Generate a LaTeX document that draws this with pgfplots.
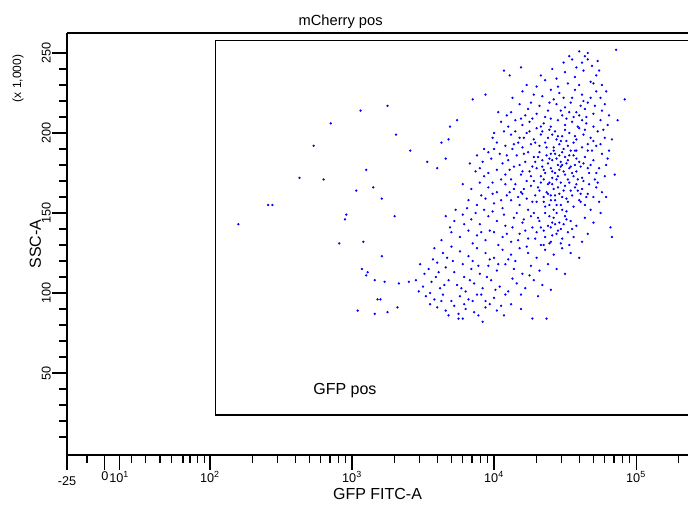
\documentclass[border=0pt]{standalone}
\usepackage{pgfplots}
\pgfplotsset{compat=1.18}
\usepackage{fontspec}
\setmainfont{Liberation Sans}
\begin{document}
\begin{tikzpicture}[x=1pt,y=1pt]
\begin{axis}[
  scale only axis, width=465.75pt, height=316.5pt,
  xmin=0.993, xmax=5.366, ymin=-1.25, ymax=262.5,
  axis x line=bottom, axis y line=left, axis line style={-, line width=0.8pt},
  xtick={0.993,1.26,1.36,2,3,4,5},
  xticklabels={\raisebox{-2.2ex}{-25},0,10\textsuperscript{1},10\textsuperscript{2},10\textsuperscript{3},10\textsuperscript{4},10\textsuperscript{5}},
  minor xtick={1.134,1.444,1.549,1.648,1.732,1.81,1.859,1.915,1.958,
   2.301,2.477,2.602,2.699,2.778,2.845,2.903,2.954,
   3.301,3.477,3.602,3.699,3.778,3.845,3.903,3.954,
   4.301,4.477,4.602,4.699,4.778,4.845,4.903,4.954,5.301},
  ytick={50,100,150,200,250},
  minor ytick={10,20,30,40,60,70,80,90,110,120,130,140,160,170,180,190,210,220,230,240},
  tick align=outside, tick style={black, line width=0.8pt},
  major tick length=11pt, minor tick length=6pt,
  xticklabel style={font=\fontsize{9.5}{10}\selectfont, inner sep=1pt},
  yticklabel style={font=\fontsize{9.5}{10}\selectfont, rotate=90, anchor=south, inner sep=1pt},
  /pgf/number format/assume math mode=true,
  xlabel={GFP FITC-A}, ylabel={SSC-A},
  xlabel style={font=\fontsize{12}{13}\selectfont, yshift=3pt},
  ylabel style={font=\fontsize{12}{13}\selectfont, yshift=-4pt},
  clip=false,
]
\addplot[black, line width=0.8pt] coordinates {(5.366,258)(2.04,258)(2.04,23.75)(5.366,23.75)};
\addplot[only marks, mark=*, mark size=0.65pt, blue, draw=none] coordinates {
(2.20,143)(2.41,155)(2.44,155)(2.63,172)(2.73,192)(2.80,171)(2.85,206)(2.91,131)(2.95,146)(2.96,149)
(3.03,164)(3.06,214)(3.08,132)(3.10,177)(3.15,166)(3.21,159)(3.25,217)(3.21,123)(3.30,148)(3.31,199)
(3.41,189)(3.53,182)(3.60,178)(3.66,184)(3.63,194)(3.68,196)(3.69,204)(3.74,208)(3.85,221)(3.94,224)
(4.07,239)(4.11,236)(4.19,241)(4.60,251)(4.86,252)(4.92,221)(4.87,208)(4.85,174)(4.82,141)(4.83,135)
(3.04,89)(3.16,87)(3.25,88)(3.32,91)(3.18,96)(3.20,96)(3.07,115)(3.11,113)(3.10,111)(3.16,108)
(3.23,107)(3.33,106)(3.40,107)(3.75,84)(3.78,84)(3.92,82)(4.27,84)(4.37,84)
(4.55,246)(4.62,244)(4.64,248)(4.66,246)(4.58,241)(4.72,236)(4.74,239)(4.50,238)(4.68,232)(4.44,234)
(4.36,233)(4.76,230)(4.60,230)(4.70,231)(4.30,229)(4.52,231)
(4.20,226)(4.28,224)(4.34,223)(4.40,227)(4.46,225)(4.55,222)(4.62,224)(4.72,226)(4.78,218)(4.66,219)
(4.18,218)(4.24,215)(4.32,217)(4.38,214)(4.44,218)(4.50,216)(4.58,213)(4.64,215)(4.70,212)(4.76,214)
(4.22,211)(4.30,212)(4.36,210)(4.48,211)(4.54,219)(4.60,211)(4.12,213)(4.42,221)(4.68,222)(4.26,219)
(4.05,207)(4.10,204)(4.15,208)(4.20,205)(4.25,207)(4.30,203)(4.35,206)(4.40,204)(4.45,208)(4.50,205)
(4.55,207)(4.60,203)(4.65,206)(4.70,204)(4.75,208)(4.80,205)(4.12,199)(4.18,197)(4.23,200)(4.28,196)
(4.33,199)(4.38,197)(4.43,201)(4.48,198)(4.53,200)(4.58,196)(4.63,199)(4.68,197)(4.73,201)(4.78,197)
(4.02,194)(4.08,192)(4.14,193)(4.20,191)(4.26,193)(4.32,192)(4.36,194)(4.42,191)(4.46,193)(4.52,192)
(4.56,194)(4.62,191)(4.66,193)(4.72,192)(4.44,196)(4.50,202)(4.40,209)(4.56,210)(4.34,201)(4.62,208)
(4.00,200)(3.96,188)(4.25,201)(4.41,199)(4.47,195)(4.57,198)(4.51,209)(4.29,194)(4.64,202)(4.70,195)
(3.88,186)(3.92,182)(3.98,184)(4.04,187)(4.10,183)(4.16,186)(4.22,182)(4.28,185)(4.34,183)(4.40,187)
(4.44,184)(4.48,188)(4.52,183)(4.56,186)(4.60,182)(4.64,185)(4.70,183)(4.76,187)(4.80,184)(4.38,181)
(3.90,178)(3.96,175)(4.02,177)(4.08,174)(4.14,179)(4.20,176)(4.26,173)(4.30,178)(4.36,175)(4.41,172)
(4.46,177)(4.50,174)(4.54,179)(4.58,176)(4.62,172)(4.66,178)(4.72,175)(4.78,173)(4.44,171)(4.48,180)
(4.32,188)(4.42,189)(4.50,185)(4.54,189)(4.58,189)(4.46,186)(4.40,178)(4.34,179)(4.56,173)(4.52,171)
(4.43,175)(4.47,182)(4.39,184)(4.49,176)(4.45,180)(4.41,183)(4.37,186)(4.53,178)(4.61,179)(4.68,180)
(4.24,188)(4.18,180)(4.12,171)(4.06,181)(4.00,190)(4.74,178)(4.58,184)(4.35,171)(4.28,170)(4.66,189)
(3.78,168)(3.84,165)(3.90,169)(3.96,166)(4.02,163)(4.08,168)(4.14,165)(4.20,162)(4.26,167)(4.32,164)
(4.38,168)(4.42,165)(4.46,162)(4.50,167)(4.54,164)(4.58,168)(4.62,165)(4.66,162)(4.72,166)(4.76,163)
(3.82,158)(3.88,155)(3.94,159)(4.00,156)(4.06,153)(4.12,158)(4.18,155)(4.24,152)(4.30,157)(4.36,154)
(4.40,158)(4.44,155)(4.48,152)(4.52,157)(4.56,154)(4.60,158)(4.64,155)(4.68,152)(4.74,157)(4.40,161)
(4.35,160)(4.45,166)(4.48,160)(4.42,152)(4.33,169)(4.55,161)(4.29,161)(4.51,151)(4.38,162)(4.43,158)
(4.47,169)(4.39,155)(4.27,157)(4.61,162)(4.21,165)(4.17,160)(4.09,161)(3.99,162)(4.63,170)(4.70,160)
(3.66,148)(3.72,145)(3.78,149)(3.84,146)(3.90,143)(3.96,148)(4.02,145)(4.08,142)(4.14,147)(4.20,144)
(4.26,148)(4.32,145)(4.38,142)(4.42,147)(4.46,144)(4.50,148)(4.54,145)(4.58,142)(4.64,147)(4.70,144)
(3.70,138)(3.76,135)(3.82,139)(3.88,136)(3.94,133)(4.00,138)(4.06,135)(4.12,132)(4.18,137)(4.24,134)
(4.30,138)(4.36,135)(4.40,132)(4.44,137)(4.48,134)(4.52,138)(4.56,135)(4.62,132)(4.66,137)(4.40,141)
(4.44,150)(4.36,150)(4.47,140)(4.33,141)(4.41,144)(4.45,139)(4.49,143)(4.28,150)(4.22,139)(4.16,150)
(3.58,128)(3.64,125)(3.70,129)(3.76,126)(3.82,123)(3.88,128)(3.94,125)(4.00,122)(4.06,127)(4.12,124)
(4.18,128)(4.24,125)(4.30,122)(4.36,127)(4.42,124)(4.48,128)(4.54,125)(4.60,122)(4.33,130)(4.39,131)
(3.48,118)(3.54,115)(3.60,119)(3.66,116)(3.72,113)(3.78,118)(3.84,115)(3.90,112)(3.96,117)(4.02,114)
(4.08,118)(4.14,115)(4.20,112)(4.26,117)(4.32,114)(4.38,118)(4.44,115)(4.50,112)(4.10,121)(3.85,120)
(3.45,108)(3.50,104)(3.56,107)(3.62,103)(3.68,108)(3.74,105)(3.80,101)(3.86,106)(3.92,103)(3.98,108)
(4.04,104)(4.10,101)(4.16,106)(4.22,103)(4.28,108)(4.34,105)(4.40,102)(3.59,110)(3.95,110)(4.25,111)
(3.52,98)(3.58,96)(3.64,99)(3.70,95)(3.76,98)(3.82,96)(3.88,99)(3.94,95)(4.00,97)(4.08,99)
(3.60,91)(3.66,89)(3.72,92)(3.80,90)(3.86,88)(3.94,91)(4.02,89)(3.55,93)(4.12,93)(3.68,86)
(4.37,191)(4.43,187)(4.49,190)(4.31,185)(4.27,179)(4.53,186)(4.45,173)(4.39,169)(4.51,181)(4.57,180)
(4.35,177)(4.33,173)(4.47,179)(4.41,176)(4.55,175)(4.59,171)(4.29,182)(4.25,176)(4.23,170)(4.19,174)
(4.37,163)(4.31,166)(4.49,164)(4.53,169)(4.57,166)(4.43,161)(4.41,168)(4.35,157)(4.47,155)(4.51,159)
(4.23,159)(4.19,163)(4.15,168)(4.11,163)(4.05,158)(4.61,157)(4.65,160)(4.59,164)(4.67,168)(4.71,171)
(4.39,148)(4.43,143)(4.31,147)(4.27,141)(4.35,139)(4.51,146)(4.55,140)(4.21,146)(4.13,141)(4.07,149)
(4.17,133)(4.23,129)(4.29,134)(4.35,130)(4.41,136)(4.47,131)(4.53,130)(4.09,137)(4.03,130)(3.97,139)
(4.45,198)(4.39,202)(4.33,204)(4.27,209)(4.21,197)(4.59,204)(4.53,213)(4.47,214)(4.61,217)(4.65,210)
(4.71,217)(4.77,202)(4.69,189)(4.75,193)(4.79,180)(4.73,169)(4.67,175)(4.63,181)(4.57,189)(4.51,195)
(3.91,161)(3.87,150)(3.93,152)(3.99,151)(3.81,153)(3.73,152)(3.69,141)(3.79,143)(3.85,131)(3.91,138)
(3.63,133)(3.67,122)(3.57,121)(3.61,113)(3.71,120)(3.79,110)(3.89,117)(3.97,121)(4.03,118)(4.15,120)
(3.51,112)(3.47,101)(3.55,100)(3.65,105)(3.77,103)(3.83,108)(3.91,99)(4.01,102)(4.13,109)(4.19,99)
(3.79,93)(3.85,95)(3.97,93)(4.05,92)(3.63,95)(3.75,87)(3.89,86)(4.07,86)(4.19,90)(4.31,98)
(4.11,177)(4.05,171)(3.99,169)(3.93,173)(3.87,176)(3.83,181)(3.93,190)(3.99,197)(4.07,201)(4.13,190)
(4.17,194)(4.21,187)(4.09,186)(4.15,201)(4.19,209)(4.09,211)(4.03,213)(4.13,222)(4.23,230)(4.33,236)
(4.41,240)(4.49,244)(4.57,235)(4.63,239)(4.69,242)(4.73,245)(4.66,250)(4.53,248)(4.45,229)(4.39,219)
(4.49,222)(4.57,227)(4.63,220)(4.75,222)(4.79,226)(4.81,211)(4.83,196)(4.81,189)(4.79,160)(4.75,150)
};
\node[font=\fontsize{12}{13}\selectfont] at (axis cs:2.95,39) {GFP pos};
\node[font=\fontsize{11}{12}\selectfont, anchor=base] at (axis cs:2.92,267.5) {mCherry pos};
\node[font=\fontsize{9}{10}\selectfont, rotate=90, anchor=south] at ([xshift=-29pt]axis cs:0.993,234) {(x 1,000)};
\coordinate (sw) at ([xshift=-50.25pt,yshift=-42pt]rel axis cs:0,0);
\coordinate (ne) at ([yshift=24.75pt]rel axis cs:1,1);
\end{axis}
\draw[line width=0.8pt] (0,316.5) -- (465.75,316.5);
\pgfresetboundingbox
\useasboundingbox (sw) rectangle (ne);
\end{tikzpicture}
\end{document}
